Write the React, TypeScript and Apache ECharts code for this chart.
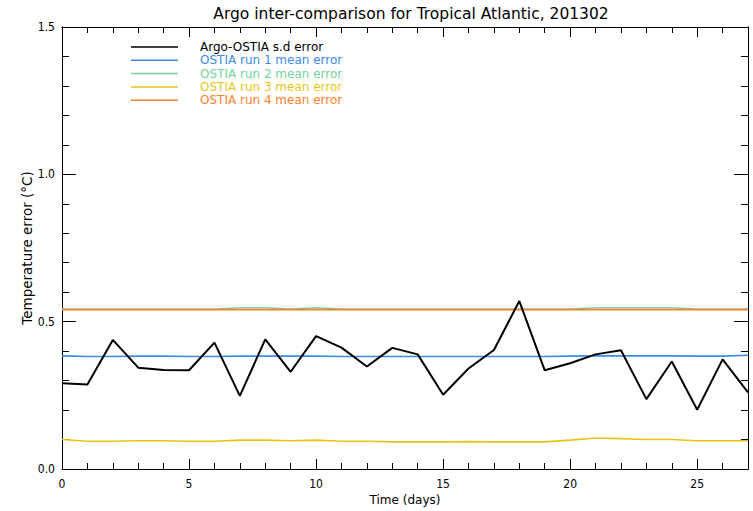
import React, { useEffect, useRef } from "react";
import * as echarts from "echarts";

const days = Array.from({ length: 28 }, (_, i) => i);
const sdError = [0.291, 0.287, 0.438, 0.344, 0.336, 0.335, 0.429, 0.248, 0.44, 0.33, 0.451, 0.412, 0.348, 0.411, 0.389, 0.252, 0.341, 0.404, 0.57, 0.335, 0.359, 0.389, 0.403, 0.237, 0.365, 0.201, 0.372, 0.26];
const run1 = [0.384, 0.382, 0.382, 0.383, 0.383, 0.382, 0.382, 0.383, 0.383, 0.383, 0.383, 0.382, 0.382, 0.382, 0.382, 0.382, 0.382, 0.382, 0.382, 0.382, 0.383, 0.384, 0.384, 0.384, 0.384, 0.383, 0.383, 0.386];
const run2 = [0.543, 0.543, 0.543, 0.543, 0.543, 0.543, 0.543, 0.547, 0.547, 0.543, 0.547, 0.543, 0.543, 0.543, 0.543, 0.543, 0.543, 0.543, 0.543, 0.543, 0.543, 0.547, 0.547, 0.547, 0.547, 0.543, 0.543, 0.543];
const run3 = [0.1, 0.094, 0.094, 0.096, 0.096, 0.094, 0.094, 0.098, 0.098, 0.096, 0.098, 0.094, 0.094, 0.092, 0.092, 0.092, 0.093, 0.092, 0.092, 0.092, 0.098, 0.105, 0.103, 0.1, 0.1, 0.096, 0.096, 0.096];
const run4 = [0.541, 0.541, 0.541, 0.541, 0.541, 0.541, 0.541, 0.541, 0.541, 0.541, 0.541, 0.541, 0.541, 0.541, 0.541, 0.541, 0.541, 0.541, 0.541, 0.541, 0.541, 0.541, 0.541, 0.541, 0.541, 0.541, 0.541, 0.541];

const seriesNames = [
  "Argo-OSTIA s.d error",
  "OSTIA run 1 mean error",
  "OSTIA run 2 mean error",
  "OSTIA run 3 mean error",
  "OSTIA run 4 mean error",
];
const seriesValues = [sdError, run1, run2, run3, run4];
const seriesColors = ["#000000", "#3d8ae6", "#74d39a", "#e8c41a", "#ff7f2a"];

const FONT = "'DejaVu Sans', sans-serif";
const FONT_C = "'DejaVu Sans Condensed', 'DejaVu Sans', sans-serif";

export default function App() {
  const ref = useRef<HTMLDivElement>(null);
  useEffect(() => {
    if (!ref.current) return;
    const chart = echarts.init(ref.current, null, { renderer: "svg" });
    const xMin = 0, xMax = 27, yMin = 0, yMax = 1.5;
    const lineStyle = { color: "#000", width: 1 };
    const mkX = (pos: string, interval: number, len: number, labels: boolean, extra: any = {}) => ({
      type: "value",
      position: pos,
      min: xMin,
      max: xMax,
      interval,
      axisLine: { show: true, onZero: false, lineStyle },
      axisTick: { show: true, inside: true, length: len, lineStyle },
      axisLabel: labels
        ? { show: true, margin: 9, color: "#000", fontSize: 12, fontFamily: FONT_C, showMaxLabel: false }
        : { show: false },
      splitLine: { show: false },
      ...extra,
    });
    const mkY = (pos: string, interval: number, len: number, labels: boolean, extra: any = {}) => ({
      type: "value",
      position: pos,
      min: yMin,
      max: yMax,
      interval,
      axisLine: { show: true, onZero: false, lineStyle },
      axisTick: { show: true, inside: true, length: len, lineStyle },
      axisLabel: labels
        ? { show: true, margin: 7, color: "#000", fontSize: 12, fontFamily: FONT_C, formatter: (v: number) => v.toFixed(1) }
        : { show: false },
      splitLine: { show: false },
      ...extra,
    });
    const legendTop = 47;
    const legendStep = 13.3;
    const graphic: any[] = [];
    seriesNames.forEach((n, i) => {
      const y = legendTop + i * legendStep;
      graphic.push({
        type: "line",
        shape: { x1: 131, y1: y, x2: 178, y2: y },
        style: { stroke: seriesColors[i], lineWidth: 1.5 },
      });
      graphic.push({
        type: "text",
        x: 200,
        y,
        style: { text: n, fill: seriesColors[i], font: `12px ${FONT}`, lineHeight: 12, textVerticalAlign: "middle" },
      });
    });
    chart.setOption({
      animation: false,
      backgroundColor: "#fff",
      title: {
        text: "Argo inter-comparison for Tropical Atlantic, 201302",
        left: 406,
        textAlign: "center",
        top: 1,
        textStyle: { fontSize: 15.5, fontWeight: "normal", color: "#000", fontFamily: FONT },
      },
      grid: { left: 62, right: 5, top: 27, bottom: 41 },
      xAxis: [
        mkX("bottom", 1, 6, false),
        mkX("bottom", 5, 10, true, {
          name: "Time (days)",
          nameLocation: "middle",
          nameGap: 25,
          nameMoveOverlap: false,
          nameTextStyle: { color: "#000", fontSize: 12, fontFamily: FONT },
        }),
        mkX("top", 1, 6, false),
        mkX("top", 5, 10, false),
      ],
      yAxis: [
        mkY("left", 0.1, 7, false),
        mkY("left", 0.5, 14, true, {
          name: "Temperature error (°C)",
          nameLocation: "middle",
          nameGap: 28,
          nameMoveOverlap: false,
          nameTextStyle: { color: "#000", fontSize: 13.5, fontFamily: FONT },
        }),
        mkY("right", 0.1, 7, false),
        mkY("right", 0.5, 14, false),
      ],
      graphic,
      series: seriesNames.map((n, i) => ({
        name: n,
        type: "line",
        xAxisIndex: 0,
        yAxisIndex: 0,
        data: days.map((d, j) => [d, seriesValues[i][j]]),
        showSymbol: false,
        symbol: "none",
        lineStyle: { color: seriesColors[i], width: i === 0 ? 2 : 1.6 },
        z: i === 0 ? 5 : 2,
      })),
    });
    return () => chart.dispose();
  }, []);
  return <div ref={ref} style={{ width: 753, height: 511, position: "absolute", left: 0, top: 0 }} />;
}
